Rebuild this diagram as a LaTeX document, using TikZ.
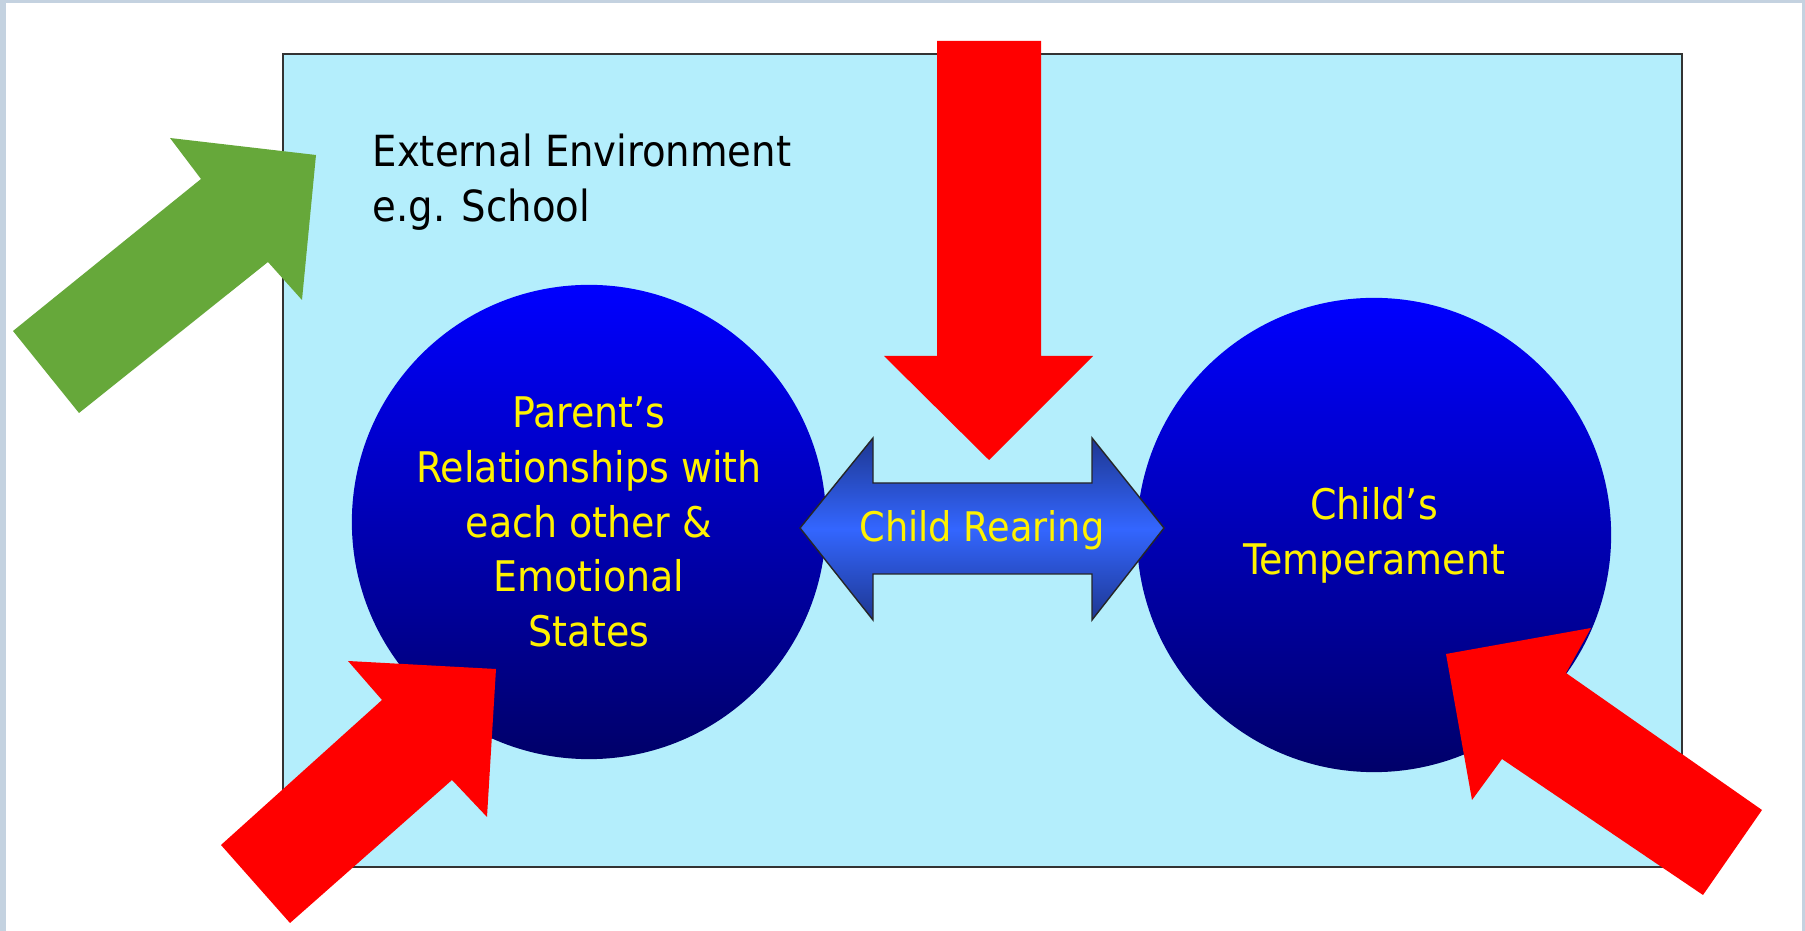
\documentclass[tikz,border=0pt]{standalone}
\usepackage{fontspec}
\setmainfont{DejaVu Sans Condensed}
\usetikzlibrary{positioning,calc}

\definecolor{pool}{RGB}{180,238,252}
\definecolor{leaf}{RGB}{102,168,58}
\definecolor{deepnavy}{RGB}{0,0,105}
\definecolor{rearblue}{RGB}{51,102,255}
\definecolor{rearedge}{RGB}{30,55,145}
\definecolor{slideframe}{RGB}{196,210,224}

\tikzset{
  bubble/.style={circle, minimum size=4.74cm, inner sep=0pt, top color=blue,
    bottom color=deepnavy, text=yellow, align=center,
    font=\fontsize{12}{15.6}\selectfont},
  redblock/.style={fill=red},
  greenblock/.style={fill=leaf},
}

\begin{document}
\begin{tikzpicture}[x=0.01cm, y=-0.01cm]
    \useasboundingbox (0,0) rectangle (1805,931);
    % Slide and environment box
    \fill[slideframe] (0,0) rectangle (1805,931);
    \fill[white] (6,3) rectangle (1802,931);
    \draw[fill=pool, draw=black!80, line width=0.8pt] (283,54) rectangle (1682,867);
    \node[anchor=north west, inner sep=0pt, align=left,
      font=\fontsize{12.2}{15.6}\selectfont] (env) at (372,133)
      {External Environment\\e.g. School};

    % Parents and child
    \node[bubble] (parents) at (589,522)
      {Parent’s\\Relationships with\\each other \&\\Emotional\\States};
    \node[bubble] (child) at (1374,535) {Child’s\\Temperament};

    % Child rearing
    \draw[draw=black!85, top color=rearedge, bottom color=rearedge, middle color=rearblue]
      (800,528) -- (873,438) -- (873,483) -- (1092,483) -- (1092,438) -- (1164,528)
      -- (1092,620) -- (1092,574) -- (873,574) -- (873,620) -- cycle;
    \node[text=yellow, font=\fontsize{11.6}{14}\selectfont] (rearing) at (982,530) {Child Rearing};

    % Influences
    \fill[greenblock] (13,331) -- (201,179) -- (170,138) -- (316,155)
      -- (302,300) -- (268,262) -- (79,413) -- cycle;
    \fill[redblock] (937,41) -- (937,356) -- (884,356) -- (989,460)
      -- (1093,356) -- (1041,356) -- (1041,41) -- cycle;
    \fill[redblock] (221,845) -- (382,700) -- (348,661) -- (496,669)
      -- (487,817) -- (452,780) -- (290,923) -- cycle;
    \fill[redblock] (1762,810) -- (1566,673) -- (1591,628) -- (1446,654)
      -- (1472,800) -- (1502,759) -- (1703,895) -- cycle;
\end{tikzpicture}
\end{document}
